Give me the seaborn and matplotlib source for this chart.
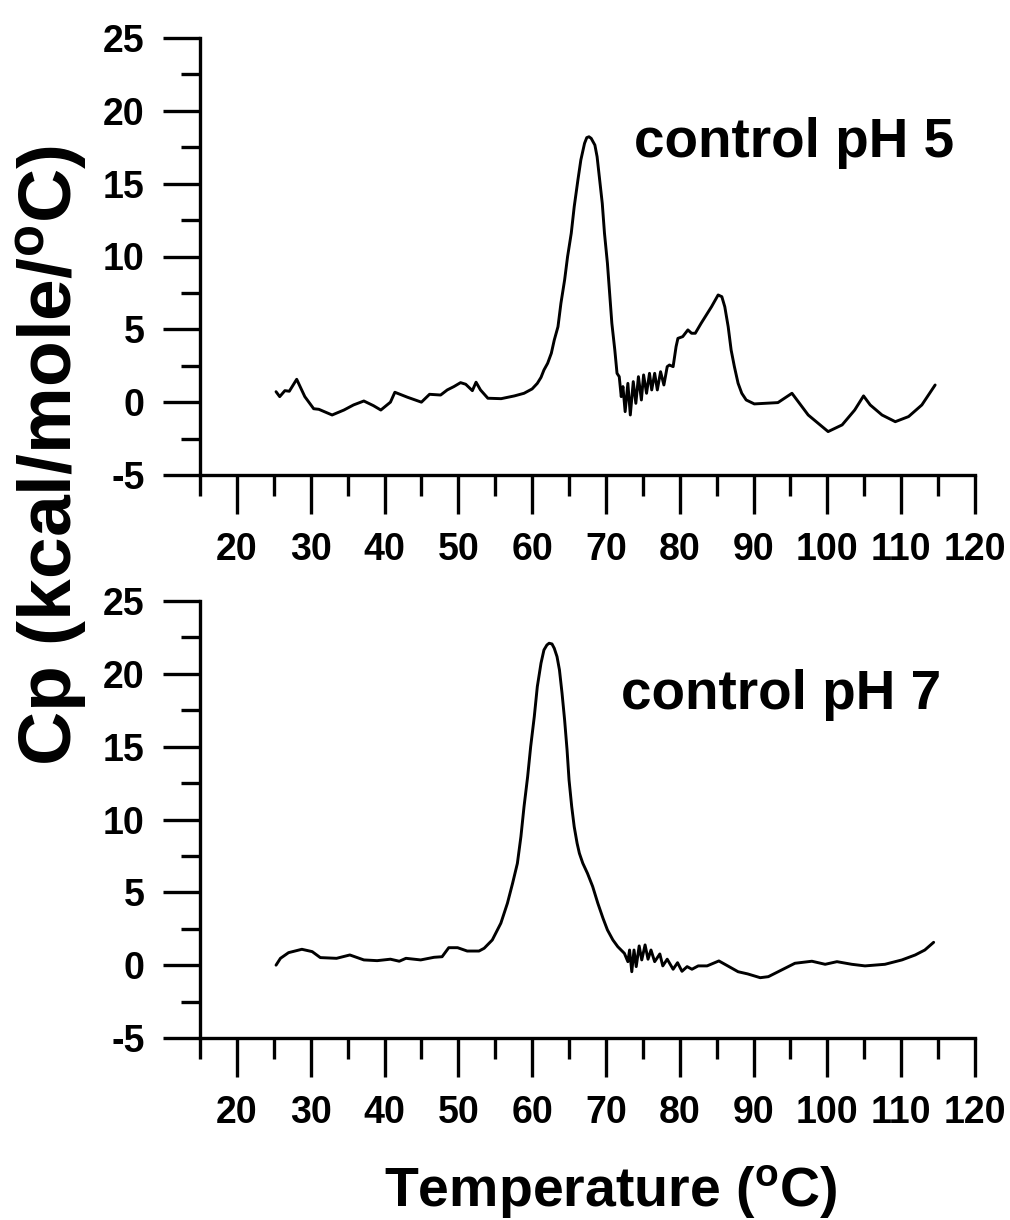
import numpy as np
import pandas as pd
import matplotlib
matplotlib.use("Agg")
import matplotlib.pyplot as plt
import seaborn as sns
from matplotlib.ticker import FixedLocator

# ---------------- data ----------------
t_ph5 = [25.3, 25.8, 26.5, 27.1, 28.1, 29.2, 30.4, 31.1, 32.9, 34.5, 35.8, 37.2, 38.5, 39.5,
         40.8, 41.4, 43.1, 45.0, 46.1, 47.6, 48.5, 49.4, 50.3, 51.0, 51.9, 52.4, 53.0, 54.0,
         55.8, 57.6, 58.9, 60.0, 60.7, 61.2, 61.6, 62.1, 62.6, 63.0, 63.5, 63.9, 64.4, 64.8,
         65.3, 65.7, 66.2, 66.6, 67.1, 67.4, 67.7, 68.0, 68.5, 68.8, 69.1, 69.5, 69.8, 70.2,
         70.5, 70.8, 71.2, 71.5, 71.8, 72.07, 72.3, 72.6, 72.97, 73.3, 73.7, 74.05, 74.4,
         74.8, 75.1, 75.5, 75.9, 76.2, 76.6, 76.96, 77.4, 77.85, 78.3, 78.6, 79.1, 79.5, 79.75,
         80.4, 81.1, 81.6, 82.1, 82.9, 84.3, 85.2, 85.7, 86.1, 86.56, 86.96, 87.4, 87.9, 88.4,
         89.0, 90.1, 93.3, 95.2, 97.4, 100.1, 102.0, 103.7, 104.9, 105.8, 107.4, 109.2, 111.0,
         112.8, 114.6]
cp_ph5 = [0.72, 0.38, 0.79, 0.75, 1.57, 0.38, -0.45, -0.49, -0.88, -0.54, -0.19, 0.08, -0.24, -0.54,
          0.0, 0.68, 0.34, 0.0, 0.54, 0.49, 0.84, 1.07, 1.34, 1.23, 0.79, 1.37, 0.84, 0.27,
          0.24, 0.43, 0.61, 0.91, 1.29, 1.70, 2.21, 2.67, 3.36, 4.27, 5.18, 6.79, 8.39, 9.99,
          11.6, 13.42, 15.25, 16.63, 17.77, 18.16, 18.22, 18.11, 17.65, 16.85, 15.48, 13.65, 11.6, 9.53,
          7.47, 5.41, 3.58, 1.98, 1.75, 0.38, 1.07, -0.65, 1.29, -0.88, 1.41, -0.08, 1.75,
          0.15, 1.87, 0.61, 1.98, 0.84, 1.98, 0.84, 2.09, 1.18, 2.44, 2.55, 2.44, 3.81, 4.38,
          4.50, 4.96, 4.73, 4.73, 5.42, 6.55, 7.36, 7.24, 6.55, 5.18, 3.58, 2.44, 1.30, 0.61,
          0.15, -0.12, -0.03, 0.61, -0.88, -2.02, -1.56, -0.54, 0.43, -0.19, -0.88, -1.34, -0.99,
          -0.19, 1.18]

t_ph7 = [25.3, 25.9, 27.0, 28.8, 30.2, 31.3, 33.5, 35.3, 37.2, 39.0, 40.8, 42.0, 42.9, 44.9,
         46.7, 47.8, 48.7, 49.9, 51.2, 52.8, 53.5, 54.6, 55.76, 56.65, 57.35, 58.0, 58.48, 58.9,
         59.39, 59.8, 60.29, 60.7, 61.2, 61.6, 62.0, 62.3, 62.69, 63.0, 63.37, 63.7, 64.05, 64.4,
         64.73, 65.0, 65.36, 65.7, 66.09, 66.4, 66.86, 67.5, 68.2, 68.9, 69.6, 70.2, 70.94, 71.6,
         72.5, 72.97, 73.2, 73.5, 73.8, 74.1, 74.5, 74.85, 75.3, 75.7, 76.1, 76.6, 77.3, 77.7,
         78.3, 79.1, 79.7, 80.3, 81.0, 81.65, 82.5, 83.7, 85.3, 86.5, 87.9, 89.2, 90.9, 92.0,
         93.8, 95.6, 97.9, 99.7, 101.3, 103.3, 105.1, 107.8, 110.1, 111.9, 113.2, 114.4]
cp_ph7 = [0.0, 0.47, 0.86, 1.09, 0.93, 0.52, 0.47, 0.70, 0.36, 0.31, 0.41, 0.27, 0.47, 0.36,
          0.54, 0.58, 1.20, 1.20, 0.97, 0.97, 1.16, 1.73, 2.88, 4.25, 5.62, 6.99, 8.83, 10.88,
          12.94, 15.0, 17.06, 19.12, 20.73, 21.64, 21.98, 22.1, 22.05, 21.75, 21.18, 20.27, 18.67, 16.83,
          14.78, 12.71, 10.89, 9.5, 8.37, 7.68, 7.0, 6.3, 5.4, 4.25, 3.22, 2.42, 1.73, 1.27,
          0.81, 0.24, 1.04, -0.45, 1.04, -0.10, 1.32, 0.36, 1.39, 0.41, 1.04, 0.24, 0.77, -0.05,
          0.41, -0.28, 0.17, -0.42, -0.10, -0.28, -0.05, -0.05, 0.29, -0.05, -0.45, -0.60, -0.86, -0.79,
          -0.33, 0.13, 0.27, 0.06, 0.24, 0.06, -0.05, 0.06, 0.36, 0.70, 1.04, 1.57]

panel_labels = ["control pH 5", "control pH 7"]
x_ticks = [20, 30, 40, 50, 60, 70, 80, 90, 100, 110, 120]
x_minor = [15, 25, 35, 45, 55, 65, 75, 85, 95, 105, 115]
y_ticks = [-5, 0, 5, 10, 15, 20, 25]
y_minor = [-2.5, 2.5, 7.5, 12.5, 17.5, 22.5]

# ---------------- style ----------------
sns.set_style("ticks")
plt.rcParams["font.family"] = ["Liberation Sans", "DejaVu Sans"]
plt.rcParams["font.weight"] = "bold"
plt.rcParams["text.color"] = "black"
plt.rcParams["axes.labelcolor"] = "black"
plt.rcParams["axes.edgecolor"] = "black"
plt.rcParams["xtick.color"] = "black"
plt.rcParams["ytick.color"] = "black"
plt.rcParams["axes.unicode_minus"] = False
plt.rcParams["mathtext.fontset"] = "custom"
plt.rcParams["mathtext.rm"] = "Liberation Sans:bold"
plt.rcParams["mathtext.bf"] = "Liberation Sans:bold"
plt.rcParams["mathtext.it"] = "Liberation Sans:bold"

W, H = 1010, 1220
fig = plt.figure(figsize=(W / 100, H / 100), dpi=100)
ax_left = 200 / W
ax_w = 775 / W
ax_h = 437 / H
axes = [fig.add_axes([ax_left, 1 - 475 / H, ax_w, ax_h]),
        fig.add_axes([ax_left, 1 - 1038 / H, ax_w, ax_h])]

series = [(t_ph5, cp_ph5), (t_ph7, cp_ph7)]
label_pos = [(0.560, 0.728), (0.543, 0.753)]

for ax, (t, cp), lab, (lx, ly) in zip(axes, series, panel_labels, label_pos):
    df = pd.DataFrame({"T": t, "Cp": cp})
    sns.lineplot(data=df, x="T", y="Cp", ax=ax, color="black", lw=2.1,
                 estimator=None, sort=False)
    ax.set_xlim(15, 120)
    ax.set_ylim(-5, 25)
    ax.set_xlabel("")
    ax.set_ylabel("")
    for s in ["top", "right"]:
        ax.spines[s].set_visible(False)
    for s in ["left", "bottom"]:
        ax.spines[s].set_linewidth(2.4)
    ax.xaxis.set_major_locator(FixedLocator(x_ticks))
    ax.xaxis.set_minor_locator(FixedLocator(x_minor))
    ax.yaxis.set_major_locator(FixedLocator(y_ticks))
    ax.yaxis.set_minor_locator(FixedLocator(y_minor))
    ax.tick_params(axis="x", which="major", direction="out", length=28, width=2.4,
                   labelsize=27, pad=13)
    ax.tick_params(axis="x", which="minor", direction="out", length=15, width=2.4)
    ax.tick_params(axis="y", which="major", direction="out", length=27, width=2.4,
                   labelsize=27, pad=13)
    ax.tick_params(axis="y", which="minor", direction="out", length=14, width=2.4)
    for tl in ax.get_xticklabels() + ax.get_yticklabels():
        tl.set_fontweight("bold")
    ax.patch.set_alpha(0)
    ax.text(lx, ly, lab, transform=ax.transAxes, fontsize=39.5, fontweight="bold",
            ha="left", va="baseline")

fig.text(0.605, 1 - 1207 / H, r"Temperature ($^{\mathrm{o}}$C)", fontsize=40,
         fontweight="bold", ha="center", va="baseline")
fig.text(52 / W, 1 - 456 / H, r"Cp (kcal/mole/$^{\mathrm{o}}$C)", fontsize=54,
         fontweight="bold", ha="center", va="center", rotation=90)

fig.savefig("out.png", dpi=100, facecolor="white")
